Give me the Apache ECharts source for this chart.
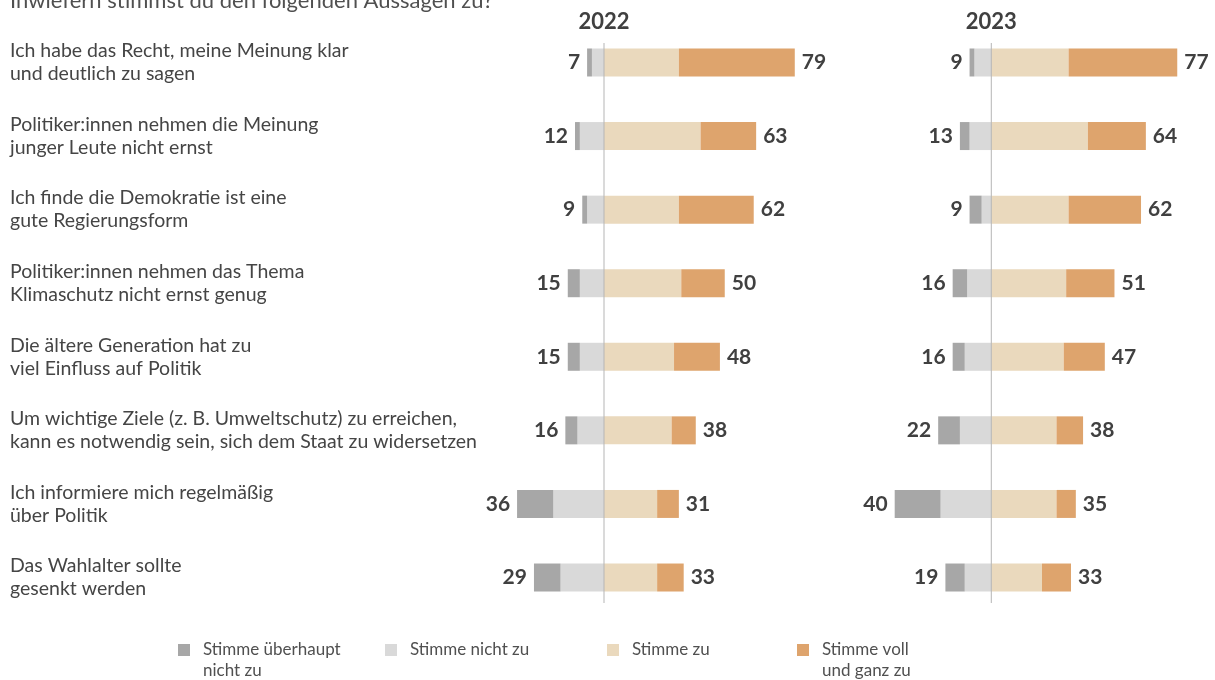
<!DOCTYPE html>
<html lang="de">
<head>
<meta charset="utf-8">
<title>Inwiefern stimmst du den folgenden Aussagen zu?</title>
<script src="https://cdn.jsdelivr.net/npm/echarts@6/dist/echarts.min.js"></script>
<style>
  html, body { margin: 0; padding: 0; background: #ffffff; }
  #chart { width: 1215px; height: 680px; }
</style>
</head>
<body>
<div id="chart"></div>
<script>
// Survey statements (top to bottom)
const categories = [
  'Ich habe das Recht, meine Meinung klar\nund deutlich zu sagen',
  'Politiker:innen nehmen die Meinung\njunger Leute nicht ernst',
  'Ich finde die Demokratie ist eine\ngute Regierungsform',
  'Politiker:innen nehmen das Thema\nKlimaschutz nicht ernst genug',
  'Die ältere Generation hat zu\nviel Einfluss auf Politik',
  'Um wichtige Ziele (z. B. Umweltschutz) zu erreichen,\nkann es notwendig sein, sich dem Staat zu widersetzen',
  'Ich informiere mich regelmäßig\nüber Politik',
  'Das Wahlalter sollte\ngesenkt werden'
];

const years = ['2022', '2023'];

// Response shares in percent, 2022
const strongDisagree2022 = [2, 2, 2, 5, 5, 5, 15, 11];
const disagree2022       = [5, 10, 7, 10, 10, 11, 21, 18];
const agree2022          = [31, 40, 31, 32, 29, 28, 22, 22];
const strongAgree2022    = [48, 23, 31, 18, 19, 10, 9, 11];

// Response shares in percent, 2023
const strongDisagree2023 = [2, 4, 5, 6, 5, 9, 19, 8];
const disagree2023       = [7, 9, 4, 10, 11, 13, 21, 11];
const agree2023          = [32, 40, 32, 31, 30, 27, 27, 21];
const strongAgree2023    = [45, 24, 30, 20, 17, 11, 8, 12];

const answerNames = [
  'Stimme überhaupt nicht zu',
  'Stimme nicht zu',
  'Stimme zu',
  'Stimme voll und ganz zu'
];
const legendLines = [
  ['Stimme überhaupt', 'nicht zu'],
  ['Stimme nicht zu'],
  ['Stimme zu'],
  ['Stimme voll', 'und ganz zu']
];
const answerColors = ['#a7a7a7', '#d9d9d9', '#ead9bd', '#dea46d'];

const FONT = 'Lato, "Noto Sans", sans-serif';
const TEXT = '#454545';

// horizontal scale shared by both panels
const UNIT = 2.415;           // px per percentage point
const X_MIN = -50, X_MAX = 90;
const ZERO_X = [604, 991.3];  // where 0 % sits in each panel
const GRID_TOP = 25.7, GRID_H = 588.6;

const panels = [
  { sd: strongDisagree2022, d: disagree2022, a: agree2022, sa: strongAgree2022 },
  { sd: strongDisagree2023, d: disagree2023, a: agree2023, sa: strongAgree2023 }
];

const grids = [], xAxes = [], yAxes = [], series = [];

panels.forEach((p, i) => {
  const left = ZERO_X[i] + X_MIN * UNIT;
  grids.push({ left: left, top: GRID_TOP, width: (X_MAX - X_MIN) * UNIT, height: GRID_H, containLabel: false });
  xAxes.push({ type: 'value', gridIndex: i, min: X_MIN, max: X_MAX, show: false });
  yAxes.push({
    type: 'category', gridIndex: i, data: categories, inverse: true,
    axisLine: { show: false }, axisTick: { show: false }, splitLine: { show: false },
    axisLabel: i === 0 ? {
      show: true, align: 'left', margin: left - 10,
      fontFamily: FONT, fontSize: 19.5, lineHeight: 23, color: TEXT
    } : { show: false }
  });

  const disTotal = p.sd.map((v, k) => v + p.d[k]);
  const agrTotal = p.a.map((v, k) => v + p.sa[k]);
  const numLabel = { fontFamily: FONT, fontSize: 21, fontWeight: 'bold', color: '#404040', distance: 7 };
  const common = { type: 'bar', xAxisIndex: i, yAxisIndex: i, stack: 'y' + i, barWidth: 28, emphasis: { disabled: true }, animation: false };

  series.push(Object.assign({}, common, {
    name: answerNames[1], data: p.d.map(v => -v), itemStyle: { color: answerColors[1] }
  }));
  series.push(Object.assign({}, common, {
    name: answerNames[0], data: p.sd.map(v => -v), itemStyle: { color: answerColors[0] },
    label: Object.assign({ show: true, position: 'left', formatter: q => disTotal[q.dataIndex] }, numLabel)
  }));
  series.push(Object.assign({}, common, {
    name: answerNames[2], data: p.a, itemStyle: { color: answerColors[2] }
  }));
  series.push(Object.assign({}, common, {
    name: answerNames[3], data: p.sa, itemStyle: { color: answerColors[3] },
    label: Object.assign({ show: true, position: 'right', formatter: q => agrTotal[q.dataIndex] }, numLabel)
  }));
});

// one legend per answer so each entry can sit in its own column;
// two-line entries get an empty first line so their first line sits beside the swatch
const legendLefts = [178, 385, 607, 797];
const legends = answerNames.map((name, k) => {
  const lines = legendLines[k];
  const twoLine = lines.length > 1;
  return {
    data: [name], left: legendLefts[k], top: twoLine ? 618.5 : 639.5, padding: 0,
    orient: 'horizontal', itemWidth: 12, itemHeight: 12, itemGap: 0, icon: 'rect',
    selectedMode: false,
    formatter: () => (twoLine ? '{t|}\n' : '') + lines.map(s => '{t|' + s + '}').join('\n'),
    textStyle: {
      fontFamily: FONT, fontSize: 17, lineHeight: 21, color: '#505050',
      rich: { t: { fontFamily: FONT, fontSize: 17, lineHeight: 21, color: '#505050', padding: [0, 0, 0, 8] } }
    }
  };
});

const chart = echarts.init(document.getElementById('chart'), null, { renderer: 'canvas' });
chart.setOption({
  backgroundColor: '#ffffff',
  animation: false,
  title: {
    text: 'Inwiefern stimmst du den folgenden Aussagen zu?',
    left: 10, top: -10, padding: 0,
    textStyle: { fontFamily: FONT, fontSize: 22, fontWeight: 'normal', color: '#505050' }
  },
  grid: grids,
  xAxis: xAxes,
  yAxis: yAxes,
  legend: legends,
  series: series
});

// zero reference lines and year headings, positioned through each panel's axes
const graphics = [];
years.forEach((yr, i) => {
  const top = chart.convertToPixel({ gridIndex: i }, [0, 0]);
  const bottom = chart.convertToPixel({ gridIndex: i }, [0, categories.length - 1]);
  graphics.push({
    type: 'line', silent: true, z: 10,
    shape: { x1: top[0], y1: top[1] - 19.5, x2: bottom[0], y2: bottom[1] + 25.5 },
    style: { stroke: '#b5b5b5', lineWidth: 1 }
  });
  graphics.push({
    type: 'text', silent: true,
    x: top[0], y: 22,
    style: {
      text: yr, fontFamily: FONT, fontSize: 22, fontWeight: 'bold',
      fill: '#404040', align: 'center', verticalAlign: 'middle'
    }
  });
});
chart.setOption({ graphic: graphics });
</script>
</body>
</html>
